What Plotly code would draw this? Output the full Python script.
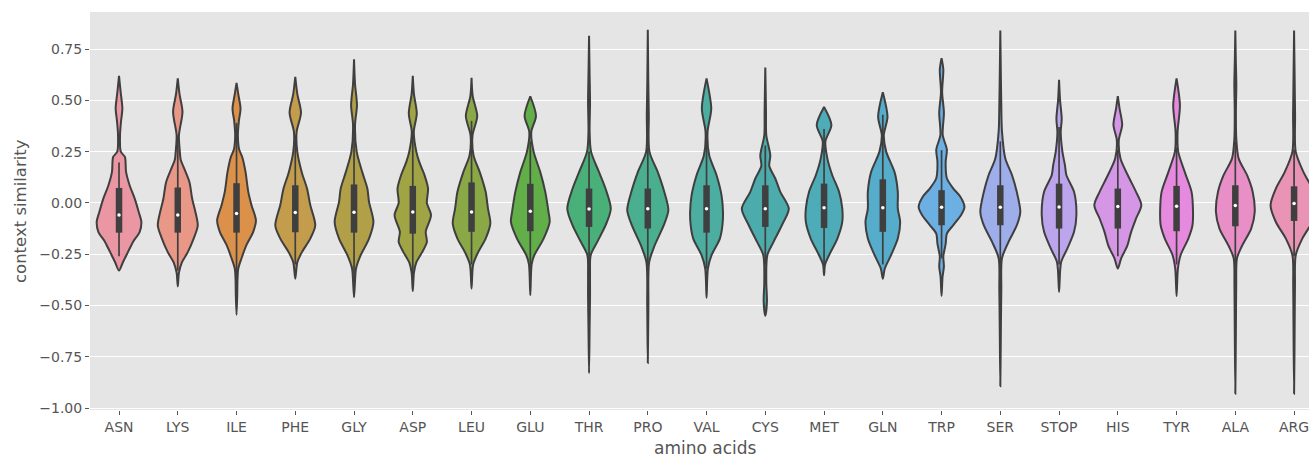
import plotly.graph_objects as go

amino_acids = ["ASN", "LYS", "ILE", "PHE", "GLY", "ASP", "LEU", "GLU", "THR", "PRO", "VAL",
               "CYS", "MET", "GLN", "TRP", "SER", "STOP", "HIS", "TYR", "ALA", "ARG"]

colors = ["#ea96a3", "#e99888", "#dc914a", "#c49d4c", "#b2a048", "#a0a444", "#8ba846",
          "#62ae48", "#48b078", "#4aaf8e", "#4baea0", "#4cacac", "#4eacb8", "#55accb",
          "#6cafe2", "#9daeea", "#bca5ec", "#d596e6", "#e68ae0", "#e88fc8", "#e994b4"]

# box statistics
q1 = [-0.145, -0.145, -0.145, -0.143, -0.145, -0.150, -0.141, -0.138, -0.117, -0.125, -0.145,
      -0.117, -0.122, -0.141, -0.109, -0.109, -0.125, -0.125, -0.138, -0.114, -0.088]
medians = [-0.059, -0.059, -0.052, -0.047, -0.046, -0.044, -0.044, -0.041, -0.030, -0.028, -0.028,
           -0.028, -0.024, -0.024, -0.021, -0.021, -0.020, -0.018, -0.016, -0.013, -0.003]
q3 = [0.073, 0.075, 0.096, 0.086, 0.090, 0.083, 0.100, 0.093, 0.070, 0.070, 0.086,
      0.086, 0.094, 0.115, 0.062, 0.086, 0.094, 0.070, 0.083, 0.086, 0.081]
whisker_lo = [-0.26, -0.33, -0.37, -0.30, -0.38, -0.35, -0.30, -0.33, -0.33, -0.32, -0.32,
              -0.30, -0.30, -0.30, -0.27, -0.30, -0.30, -0.26, -0.30, -0.30, -0.26]
whisker_hi = [0.197, 0.33, 0.39, 0.33, 0.38, 0.35, 0.40, 0.30, 0.25, 0.27, 0.33,
              0.28, 0.36, 0.43, 0.257, 0.30, 0.37, 0.26, 0.27, 0.30, 0.26]

# density profiles (value levels and half-widths in category units)
density_y = [
    [-0.33, -0.288, -0.239, -0.19, -0.141, -0.093, -0.044, 0.021, 0.086, 0.151, 0.224, 0.25, 0.33, 0.40, 0.46, 0.54, 0.62],
    [-0.407, -0.34, -0.29, -0.24, -0.174, -0.11, -0.044, 0.02, 0.10, 0.167, 0.21, 0.25, 0.33, 0.444, 0.53, 0.607],
    [-0.545, -0.45, -0.37, -0.32, -0.27, -0.205, -0.141, -0.085, -0.011, 0.054, 0.151, 0.224, 0.26, 0.33, 0.40, 0.46, 0.53, 0.585],
    [-0.37, -0.29, -0.24, -0.174, -0.11, -0.01, 0.07, 0.15, 0.25, 0.346, 0.44, 0.53, 0.615],
    [-0.46, -0.38, -0.32, -0.255, -0.174, -0.093, 0.005, 0.07, 0.15, 0.25, 0.38, 0.476, 0.58, 0.70],
    [-0.43, -0.34, -0.29, -0.24, -0.19, -0.141, -0.06, 0.0, 0.07, 0.135, 0.2, 0.25, 0.346, 0.436, 0.53, 0.62],
    [-0.418, -0.30, -0.24, -0.174, -0.1, -0.028, 0.054, 0.15, 0.232, 0.33, 0.424, 0.52, 0.61],
    [-0.45, -0.30, -0.255, -0.174, -0.093, -0.044, 0.054, 0.15, 0.25, 0.346, 0.424, 0.52],
    [-0.83, -0.6, -0.45, -0.35, -0.255, -0.19, -0.11, -0.028, 0.07, 0.15, 0.25, 0.346, 0.49, 0.65, 0.815],
    [-0.78, -0.5, -0.29, -0.21, -0.11, -0.036, 0.054, 0.15, 0.25, 0.43, 0.6, 0.844],
    [-0.463, -0.32, -0.255, -0.174, -0.11, -0.044, 0.037, 0.135, 0.232, 0.346, 0.46, 0.607],
    [-0.55, -0.48, -0.385, -0.255, -0.19, -0.11, -0.028, 0.054, 0.119, 0.18, 0.232, 0.33, 0.444, 0.66],
    [-0.353, -0.30, -0.255, -0.174, -0.093, -0.028, 0.054, 0.135, 0.216, 0.3, 0.38, 0.468],
    [-0.37, -0.32, -0.255, -0.174, -0.093, -0.028, 0.054, 0.15, 0.25, 0.33, 0.42, 0.54],
    [-0.454, -0.36, -0.31, -0.26, -0.2, -0.15, -0.108, -0.06, -0.02, 0.03, 0.07, 0.12, 0.2, 0.26, 0.33, 0.44, 0.54, 0.65, 0.706],
    [-0.894, -0.6, -0.42, -0.27, -0.19, -0.11, -0.044, 0.054, 0.135, 0.216, 0.35, 0.47, 0.65, 0.84],
    [-0.434, -0.29, -0.223, -0.141, -0.06, 0.054, 0.135, 0.184, 0.25, 0.346, 0.41, 0.5, 0.6],
    [-0.32, -0.27, -0.21, -0.141, -0.076, -0.011, 0.054, 0.135, 0.216, 0.306, 0.38, 0.46, 0.52],
    [-0.454, -0.32, -0.255, -0.174, -0.11, -0.044, 0.054, 0.15, 0.25, 0.346, 0.476, 0.607],
    [-0.93, -0.6, -0.4, -0.27, -0.21, -0.125, -0.044, 0.054, 0.135, 0.216, 0.31, 0.45, 0.574, 0.7, 0.84],
    [-0.93, -0.6, -0.4, -0.255, -0.174, -0.093, -0.011, 0.07, 0.15, 0.25, 0.43, 0.65, 0.84],
]
density_w = [
    [0, 0.068, 0.153, 0.238, 0.352, 0.38, 0.335, 0.267, 0.18, 0.12, 0.10, 0.03, 0.017, 0.035, 0.057, 0.028, 0],
    [0, 0.02, 0.07, 0.17, 0.27, 0.34, 0.30, 0.245, 0.2, 0.11, 0.05, 0.035, 0.02, 0.08, 0.03, 0],
    [0, 0.012, 0.017, 0.03, 0.085, 0.17, 0.284, 0.33, 0.255, 0.2, 0.153, 0.097, 0.045, 0.023, 0.04, 0.068, 0.03, 0],
    [0, 0.034, 0.113, 0.255, 0.34, 0.255, 0.2, 0.11, 0.034, 0.023, 0.097, 0.035, 0],
    [0, 0.017, 0.034, 0.113, 0.255, 0.33, 0.255, 0.227, 0.14, 0.045, 0.017, 0.05, 0.017, 0],
    [0, 0.02, 0.06, 0.16, 0.24, 0.22, 0.31, 0.24, 0.26, 0.2, 0.11, 0.06, 0.017, 0.068, 0.02, 0],
    [0, 0.028, 0.113, 0.24, 0.32, 0.28, 0.24, 0.14, 0.034, 0.017, 0.097, 0.02, 0],
    [0, 0.023, 0.068, 0.227, 0.33, 0.31, 0.255, 0.17, 0.057, 0.017, 0.097, 0],
    [0, 0.01, 0.017, 0.017, 0.028, 0.14, 0.28, 0.37, 0.28, 0.17, 0.034, 0.01, 0.017, 0.008, 0],
    [0, 0.01, 0.023, 0.113, 0.27, 0.35, 0.28, 0.17, 0.028, 0.017, 0.008, 0],
    [0, 0.023, 0.085, 0.227, 0.27, 0.28, 0.255, 0.17, 0.045, 0.017, 0.08, 0],
    [0, 0.028, 0.017, 0.034, 0.14, 0.28, 0.40, 0.255, 0.17, 0.068, 0.085, 0.017, 0.012, 0],
    [0, 0.017, 0.085, 0.227, 0.31, 0.31, 0.255, 0.14, 0.057, 0.023, 0.125, 0],
    [0, 0.034, 0.14, 0.255, 0.295, 0.255, 0.255, 0.2, 0.057, 0.017, 0.08, 0],
    [0, 0.017, 0.04, 0.03, 0.07, 0.09, 0.2, 0.33, 0.39, 0.32, 0.2, 0.09, 0.07, 0.09, 0.02, 0.04, 0.01, 0.03, 0],
    [0, 0.01, 0.017, 0.028, 0.14, 0.28, 0.34, 0.28, 0.2, 0.085, 0.028, 0.017, 0.008, 0],
    [0, 0.034, 0.14, 0.255, 0.295, 0.255, 0.125, 0.10, 0.057, 0.028, 0.045, 0.017, 0],
    [0, 0.057, 0.16, 0.227, 0.31, 0.40, 0.31, 0.17, 0.045, 0.017, 0.074, 0.03, 0],
    [0, 0.023, 0.068, 0.2, 0.27, 0.28, 0.255, 0.14, 0.028, 0.017, 0.057, 0],
    [0, 0.01, 0.015, 0.028, 0.113, 0.27, 0.33, 0.295, 0.2, 0.057, 0.017, 0.01, 0.017, 0.008, 0],
    [0, 0.01, 0.015, 0.028, 0.14, 0.31, 0.40, 0.31, 0.16, 0.028, 0.017, 0.008, 0],
]

y_ticks = [-1.0, -0.75, -0.5, -0.25, 0.0, 0.25, 0.5, 0.75]

EDGE = "#3f3f3f"
TEXT = "#555555"
FONT = "DejaVu Sans"

fig = go.Figure()

for i, name in enumerate(amino_acids):
    ys = density_y[i]
    ws = density_w[i]
    xs = [i + w for w in ws] + [i - w for w in reversed(ws)]
    yy = list(ys) + list(reversed(ys))
    fig.add_trace(go.Scatter(
        x=xs, y=yy, mode="lines", fill="toself", fillcolor=colors[i],
        line=dict(color=EDGE, width=2, shape="spline", smoothing=0.8),
        hoverinfo="skip", showlegend=False))
    # whisker
    fig.add_trace(go.Scatter(
        x=[i, i], y=[whisker_lo[i], whisker_hi[i]], mode="lines",
        line=dict(color=EDGE, width=1.7), hoverinfo="skip", showlegend=False))
    # interquartile box
    fig.add_trace(go.Scatter(
        x=[i, i], y=[q1[i], q3[i]], mode="lines",
        line=dict(color=EDGE, width=6.5), hoverinfo="skip", showlegend=False))
    # median
    fig.add_trace(go.Scatter(
        x=[i], y=[medians[i]], mode="markers",
        marker=dict(color="white", size=3.5, line=dict(width=0)),
        name=name, showlegend=False))

fig.update_layout(
    width=1309, height=457,
    margin=dict(l=90, r=0, t=12, b=47),
    paper_bgcolor="white", plot_bgcolor="#E5E5E5",
    font=dict(family=FONT, color=TEXT, size=14),
    showlegend=False,
    annotations=[
        dict(text="amino acids", xref="paper", yref="paper", x=0.505, y=-0.0955, xanchor="center",
             yanchor="middle", showarrow=False, font=dict(family=FONT, size=17, color=TEXT)),
        dict(text="context similarity", xref="paper", yref="paper", x=-0.0574, y=0.5, xanchor="center",
             yanchor="middle", textangle=-90, showarrow=False, font=dict(family=FONT, size=16.5, color=TEXT)),
    ],
)
fig.update_xaxes(
    range=[-0.494, 20.254], tickvals=list(range(len(amino_acids))), ticktext=amino_acids,
    showgrid=False, zeroline=False, ticks="outside", ticklen=4, tickwidth=1, tickcolor=TEXT,
    tickfont=dict(family=FONT, size=14, color=TEXT), showline=False,
    ticklabeloverflow="allow")
fig.update_yaxes(
    range=[-1.0097, 0.9308], tickvals=y_ticks, tickformat=".2f",
    showgrid=True, gridcolor="white", gridwidth=1.3, zeroline=False,
    ticks="outside", ticklen=4, tickwidth=1, tickcolor=TEXT,
    tickfont=dict(family=FONT, size=14, color=TEXT), showline=False)

fig.write_html(
    "out.html",
    config={"displayModeBar": False},
    post_script="document.body.style.margin='0px';document.body.style.padding='0px';"
                "document.body.style.overflow='hidden';",
)
